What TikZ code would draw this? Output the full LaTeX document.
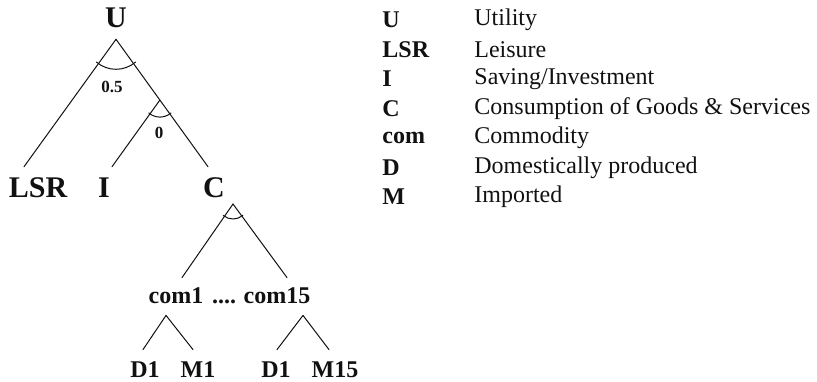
\documentclass[tikz,border=0pt]{standalone}
\usepackage{fontspec}
\setmainfont{Liberation Serif}
\usetikzlibrary{calc}
\definecolor{treeInk}{HTML}{111111}
\tikzset{
  tree label/.style={font=\bfseries\fontsize{15}{15}\selectfont, treeInk,
    text height=9.9pt, text depth=0pt, inner xsep=0pt, inner ysep=5.5pt},
  leaf label/.style={font=\bfseries\fontsize{12}{12}\selectfont, treeInk,
    text height=8pt, text depth=0pt, inner xsep=0pt, inner ysep=4.5pt},
  elast label/.style={font=\bfseries\fontsize{8.5}{8.5}\selectfont, treeInk, inner sep=0pt},
  key label/.style={font=\bfseries\fontsize{12}{12}\selectfont, treeInk, anchor=west, inner sep=0pt},
  desc label/.style={font=\fontsize{12}{12}\selectfont, treeInk, anchor=west, inner sep=0pt},
  branch/.style={treeInk, line width=0.5pt},
}
\begin{document}
\begin{tikzpicture}[x=0.5pt, y=-0.5pt, line cap=round, line join=round]
  \useasboundingbox (0,0) rectangle (817,381);

  % ---- Top nest: utility ----
  \node[tree label] (U)   at (116,18)  {U};
  \node[tree label] (LSR) at (38,188)  {LSR};
  \node[tree label] (I)   at (104,188) {I};
  \node[tree label] (C)   at (214,188) {C};

  \draw[branch] (U.south) -- ([xshift=-7pt]LSR.north);
  \draw[branch] (U.south) -- ([xshift=-3pt]C.north);
  \coordinate (icTop) at ($(U.south)!0.477!([xshift=-3pt]C.north)$);
  \draw[branch] (icTop) -- ([xshift=4pt]I.north);

  % elasticities
  \draw[branch] ([shift={(229:15pt)}]U.south) arc[start angle=229, end angle=311, radius=15pt];
  \node[elast label] (sigU) at (112,87) {0.5};
  \draw[branch] ([shift={(229:8.5pt)}]icTop) arc[start angle=229, end angle=311, radius=8.5pt];
  \node[elast label] (sigIC) at (159,133) {0};

  % ---- Consumption nest ----
  \coordinate (cTop) at (233,204);
  \node[leaf label] (com1)  at (176,295) {com1};
  \node[leaf label] (dots)  at (224,295) {....};
  \node[leaf label] (com15) at (277,295) {com15};

  \draw[branch] (cTop) -- ([xshift=3pt]com1.north);
  \draw[branch] (cTop) -- ([xshift=5pt]com15.north);
  \draw[branch] ([shift={(230:7.5pt)}]cTop) arc[start angle=230, end angle=311, radius=7.5pt];

  % ---- Armington nests ----
  \node[leaf label, inner ysep=1pt] (D1)  at (145,369) {D1};
  \node[leaf label, inner ysep=1pt] (M1)  at (198,369) {M1};
  \node[leaf label, inner ysep=1pt] (D15) at (276,369) {D1};
  \node[leaf label, inner ysep=1pt] (M15) at (335,369) {M15};

  \coordinate (com1Bot)  at ([xshift=-5pt,yshift=-1.5pt]com1.south);
  \coordinate (com15Bot) at ([xshift=13pt,yshift=-1.5pt]com15.south);
  \draw[branch] (com1Bot) -- ([xshift=-1pt,yshift=4.5pt]D1.north);
  \draw[branch] (com1Bot) -- ([xshift=-2.5pt,yshift=4.5pt]M1.north);
  \draw[branch] (com15Bot) -- ([xshift=0.5pt,yshift=4.5pt]D15.north);
  \draw[branch] (com15Bot) -- ([xshift=-3pt,yshift=4.5pt]M15.north);

  % ---- Legend ----
  \foreach \k/\d [count=\i from 0] in {U/Utility, LSR/Leisure, I/Saving\slash Investment,
      C/Consumption of Goods \& Services, com/Commodity,
      D/Domestically produced, M/Imported} {
    \node[key label]  (key\i)  at (382,20+29.5*\i) {\k};
    \node[desc label] (desc\i) at (474,20+29.5*\i) {\d};
  }
\end{tikzpicture}
\end{document}
